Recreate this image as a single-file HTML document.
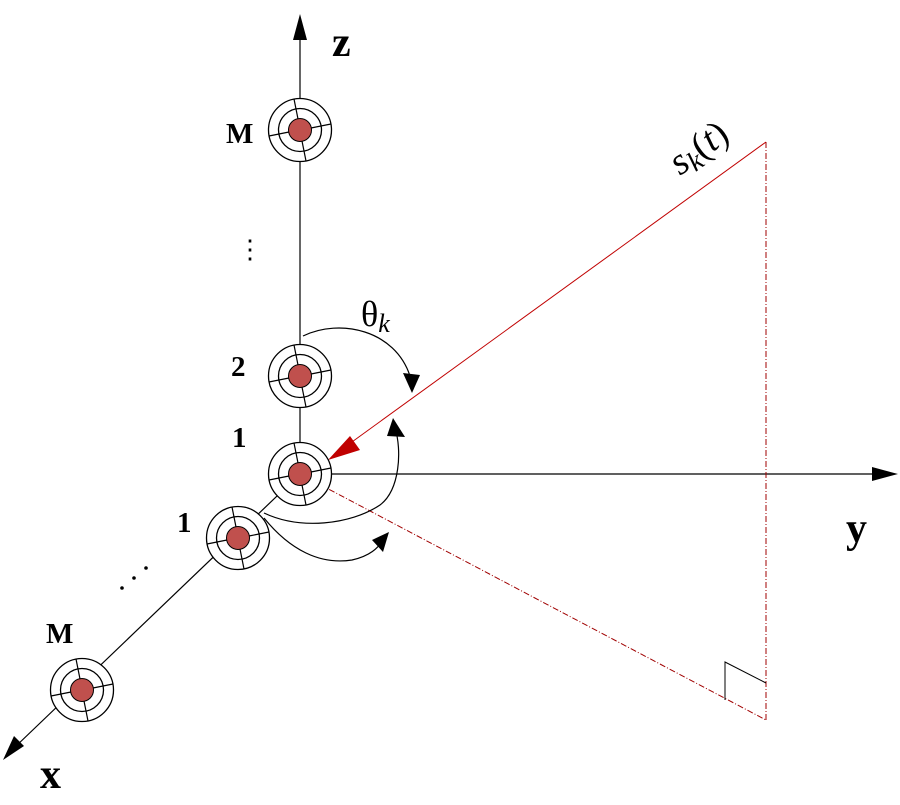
<!DOCTYPE html>
<html><head><style>html,body{margin:0;padding:0;background:#fff;}</style></head><body>
<svg width="900" height="800" viewBox="0 0 900 800" xmlns="http://www.w3.org/2000/svg" font-family="Liberation Serif, serif">
<defs>
<g id="el">
<circle r="31.5" fill="#fff" stroke="#000" stroke-width="1.3"/>
<circle r="21.5" fill="none" stroke="#000" stroke-width="1.3"/>
<g stroke="#000" stroke-width="1.2">
<line x1="-2" y1="-11" x2="-6" y2="-31"/>
<line x1="11" y1="-2" x2="31" y2="-6"/>
<line x1="2" y1="11" x2="6" y2="31"/>
<line x1="-11" y1="2" x2="-31" y2="6"/>
</g>
<circle r="11.5" fill="#c0504d" stroke="#000" stroke-width="1"/>
</g>
</defs>
<line x1="300" y1="30" x2="300" y2="474" stroke="#000" stroke-width="1.2"/>
<polygon points="300,14 293,40 307,40" fill="#000"/>
<line x1="300" y1="474" x2="880" y2="474" stroke="#000" stroke-width="1.2"/>
<polygon points="898,474 872,467 872,481" fill="#000"/>
<line x1="300" y1="474" x2="14" y2="748" stroke="#000" stroke-width="1.2"/>
<polygon points="3,760 14,736 24,746" fill="#000"/>
<line x1="766" y1="142" x2="345" y2="447" stroke="#c00000" stroke-width="1"/>
<polygon points="328,460 350,436 360,450" fill="#c00000"/>
<line x1="300" y1="474" x2="766" y2="720" stroke="#a00000" stroke-width="1" stroke-dasharray="6,2,1,2"/>
<line x1="766" y1="142" x2="766" y2="720" stroke="#a00000" stroke-width="1" stroke-dasharray="6,2,1,2"/>
<polyline points="725,700 725,662 766,683" fill="none" stroke="#000" stroke-width="1"/>
<use href="#el" x="300" y="130"/>
<use href="#el" x="300" y="376"/>
<use href="#el" x="300" y="474"/>
<use href="#el" x="238" y="538"/>
<use href="#el" x="82" y="690"/>
<path d="M303,336 C340,318 395,330 410,376" fill="none" stroke="#000" stroke-width="1.2"/>
<polygon points="412,393 403,373 420,375" fill="#000"/>
<path d="M264,513 C300,530 350,525 380,505 C400,490 402,450 395,428" fill="none" stroke="#000" stroke-width="1.2"/>
<polygon points="393,418 387,436 405,437" fill="#000"/>
<path d="M264,518 C290,550 320,565 352,560 C370,556 378,548 383,540" fill="none" stroke="#000" stroke-width="1.2"/>
<polygon points="389,532 372,540 383,552" fill="#000"/>
<g font-weight="bold" font-size="29">
<text x="332" y="56" font-size="42">z</text>
<text x="846" y="542" font-size="42">y</text>
<text x="40" y="788" font-size="42">x</text>
<text x="226" y="143">M</text>
<text x="231" y="376">2</text>
<text x="232" y="447">1</text>
<text x="177" y="532">1</text>
<text x="46" y="643">M</text>
</g>
<text x="237" y="258" font-size="26">⋮</text>
<g fill="#000"><circle cx="122" cy="588" r="1.8"/><circle cx="134" cy="578" r="1.8"/><circle cx="146" cy="568" r="1.8"/></g>
<text x="361" y="326" font-size="36">θ<tspan font-style="italic" font-size="26" dy="6">k</tspan></text>
<text transform="translate(680,176) rotate(-36)" font-size="38" font-style="italic">s<tspan font-size="28" dy="6">k</tspan><tspan font-style="normal" dy="-6">(</tspan>t<tspan font-style="normal">)</tspan></text>
</svg>
</body></html>
